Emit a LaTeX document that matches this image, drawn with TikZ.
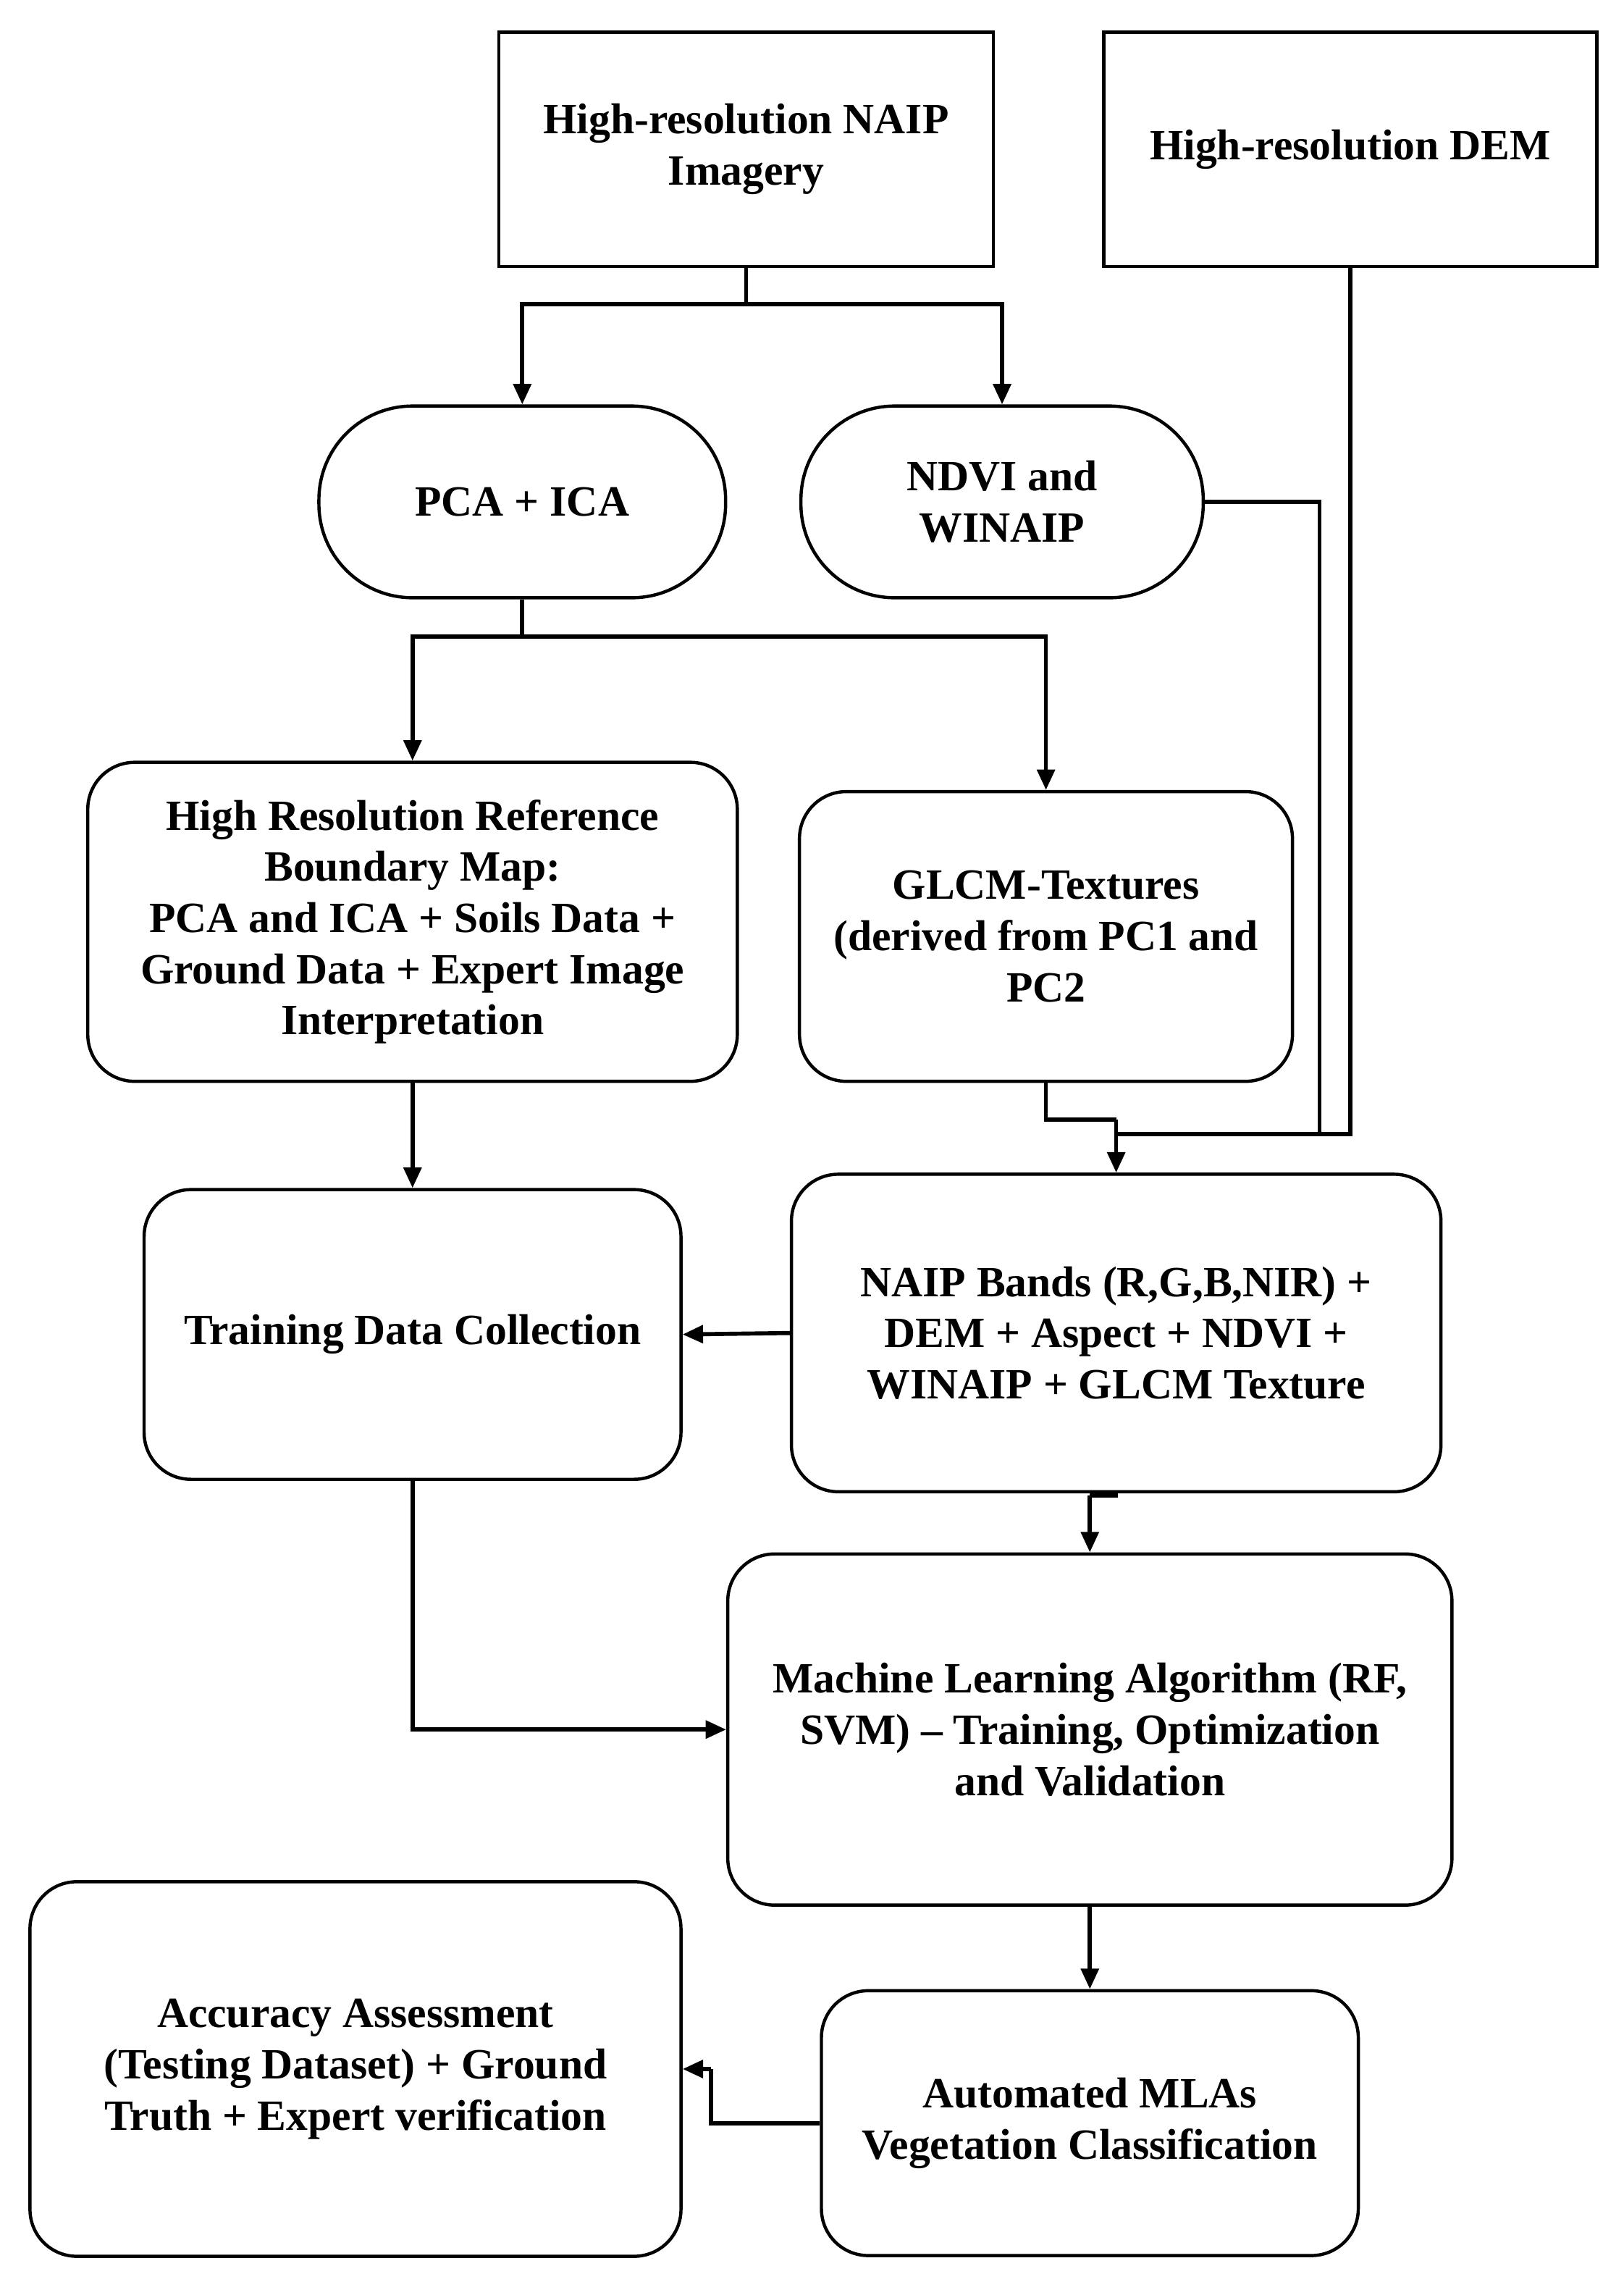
\documentclass[tikz,border=0pt]{standalone}
\usepackage{fontspec}
\setmainfont{Liberation Serif}
\usetikzlibrary{arrows.meta}
\begin{document}
\begin{tikzpicture}[x=1pt,y=-1pt,
  box/.style={draw,line width=2.2pt,align=center,inner sep=0pt,
    font=\fontsize{29.5}{35}\selectfont\bfseries},
  rbox/.style={box,rounded corners=32pt},
  pill/.style={box,rounded corners=64pt},
  line/.style={line width=2.8pt},
  arr/.style={line,-{Triangle[length=14pt,width=12pt]}}]
\useasboundingbox (0,0) rectangle (1110,1563);
\node[box,minimum width=338pt,minimum height=160pt] (naip) at (510,102) {High-resolution NAIP\\Imagery};
\node[box,minimum width=337pt,minimum height=160pt] (dem) at (923,102) {High-resolution DEM};
\node[pill,minimum width=278pt,minimum height=131pt] (pca) at (357,343) {PCA + ICA};
\node[pill,minimum width=275pt,minimum height=131pt] (ndvi) at (685,343) {NDVI and\\WINAIP};
\node[rbox,minimum width=444pt,minimum height=218pt] (ref) at (282,630) {High Resolution Reference\\Boundary Map:\\PCA and ICA + Soils Data +\\Ground Data + Expert Image\\Interpretation};
\node[rbox,minimum width=337pt,minimum height=198pt] (glcm) at (715,640) {GLCM-Textures\\(derived from PC1 and\\PC2};
\node[rbox,minimum width=367pt,minimum height=198pt] (train) at (282,912) {Training Data Collection};
\node[rbox,minimum width=444pt,minimum height=217pt] (bands) at (763,911) {NAIP Bands (R,G,B,NIR) +\\DEM + Aspect + NDVI +\\WINAIP + GLCM Texture};
\node[rbox,minimum width=495pt,minimum height=240pt] (ml) at (745,1182) {Machine Learning Algorithm (RF,\\SVM) -- Training, Optimization\\and Validation};
\node[rbox,minimum width=445pt,minimum height=256pt] (acc) at (243,1414) {Accuracy Assessment\\(Testing Dataset) + Ground\\Truth + Expert verification};
\node[rbox,minimum width=367pt,minimum height=181pt] (auto) at (745,1451) {Automated MLAs\\Vegetation Classification};
\coordinate (j) at (763,775);
% connectors
\draw[line] (naip.south) -- (510,208) coordinate (s1);
\draw[arr] (s1) -| (pca.north);
\draw[arr] (s1) -| (ndvi.north);
\draw[line] (pca.south) -- (357,435) coordinate (s2);
\draw[arr] (s2) -| (ref.north);
\draw[arr] (s2) -| (glcm.north);
\draw[line] (dem.south) |- (j);
\draw[line] (ndvi.east) -| (902,775);
\draw[line] (glcm.south) |- (763,765);
\draw[arr] (763,765) -- (bands.north);
\draw[arr] (ref.south) -- (train.north);
\draw[arr] (bands.west) -- (train.east);
\draw[line] (bands.south) -- (763,1022) -- (745,1022);
\draw[arr] (745,1022) -- (ml.north);
\draw[arr] (train.south) |- (ml.west);
\draw[arr] (ml.south) -- (auto.north);
\draw[line] (auto.west) -- (486,1451) -- (486,1414);
\draw[arr] (486,1414) -- (acc.east);
\end{tikzpicture}
\end{document}
